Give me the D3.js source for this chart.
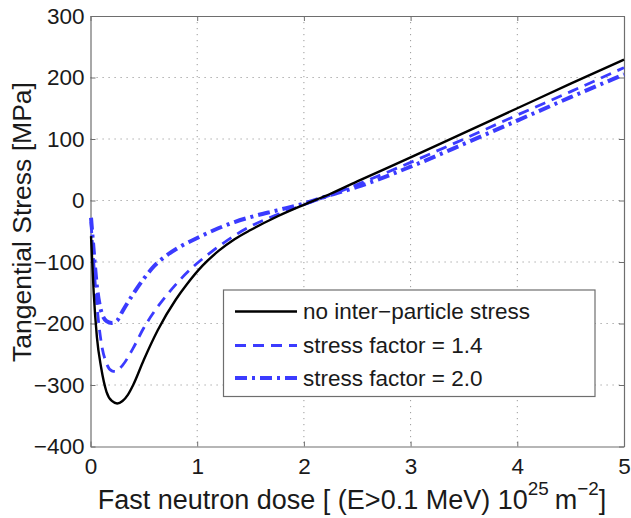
<!DOCTYPE html>
<html><head><meta charset="utf-8">
<script src="https://cdn.jsdelivr.net/npm/d3@7"></script>
<style>
html,body{margin:0;padding:0;background:#fff;}
svg{display:block;font-family:"Liberation Sans",Arial,Helvetica,sans-serif;}
</style></head>
<body>
<svg id="chart" width="631" height="518"></svg>
<script>
// ---- data ----
const xTicks = [0, 1, 2, 3, 4, 5];
const yTicks = [-400, -300, -200, -100, 0, 100, 200, 300];

const doseNoStress = [0.005, 0.03, 0.06, 0.1, 0.15, 0.2, 0.25, 0.3, 0.35, 0.4, 0.5, 0.63, 0.8, 0.9, 1.05, 1.2, 1.35, 1.5, 1.75, 2.0, 2.25, 2.5, 3.0, 3.5, 4.0, 4.5, 5.0];
const stressNoStress = [-58, -150, -222, -272, -311, -326, -330, -326, -316, -300, -259, -211, -161, -137, -106, -82, -63, -48, -26, -7, 11, 31, 70, 110, 150, 190, 229];

const doseF14 = [0.005, 0.03, 0.06, 0.1, 0.15, 0.2, 0.23, 0.3, 0.4, 0.5, 0.6, 0.7, 0.93, 1.16, 1.35, 1.5, 1.75, 2.0, 2.25, 2.5, 3.0, 3.5, 4.0, 4.5, 5.0];
const stressF14 = [-35, -100, -170, -230, -265, -277, -278, -268, -240, -207, -180, -157, -113, -80, -57, -42, -23, -7, 9, 26, 62, 100, 139, 177, 216];

const doseF20 = [0.005, 0.03, 0.06, 0.1, 0.15, 0.2, 0.25, 0.3, 0.4, 0.5, 0.6, 0.7, 0.84, 1.0, 1.16, 1.35, 1.5, 1.75, 2.0, 2.25, 2.5, 3.0, 3.5, 4.0, 4.5, 5.0];
const stressF20 = [-28, -82, -140, -180, -196, -199, -195, -180, -152, -127, -106, -91, -75, -61, -48, -35, -27, -16, -5, 9, 22, 55, 92, 130, 168, 205];

const seriesNames = ["no inter\u2212particle stress", "stress factor = 1.4", "stress factor = 2.0"];

// ---- layout ----
const svg = d3.select("#chart");
const L = 90.5, R = 624, T = 16, B = 446.5;
const x = d3.scaleLinear().domain([0, 5]).range([L, R]);
const y = d3.scaleLinear().domain([-400, 300]).range([B, T]);
const fs = 22.5;
const fsTitle = 27;

// grid
const grid = svg.append("g").attr("stroke", "#9a9a9a").attr("stroke-width", 1).attr("stroke-dasharray", "1.2,4.8");
xTicks.slice(1, -1).forEach(t => grid.append("line").attr("x1", x(t)).attr("x2", x(t)).attr("y1", T).attr("y2", B));
yTicks.slice(1, -1).forEach(t => grid.append("line").attr("x1", L).attr("x2", R).attr("y1", y(t)).attr("y2", y(t)));

// axes
const fmt = d3.format("");
const axB = svg.append("g").attr("transform", `translate(0,${B})`)
  .call(d3.axisBottom(x).tickValues(xTicks).tickSizeInner(-5).tickSizeOuter(0).tickPadding(14).tickFormat(fmt));
const axL = svg.append("g").attr("transform", `translate(${L},0)`)
  .call(d3.axisLeft(y).tickValues(yTicks).tickSizeInner(-5).tickSizeOuter(0).tickPadding(11).tickFormat(fmt));
const axT = svg.append("g").attr("transform", `translate(0,${T})`)
  .call(d3.axisTop(x).tickValues(xTicks).tickSizeInner(-5).tickSizeOuter(0).tickFormat(""));
const axR = svg.append("g").attr("transform", `translate(${R},0)`)
  .call(d3.axisRight(y).tickValues(yTicks).tickSizeInner(-5).tickSizeOuter(0).tickFormat(""));
[axB, axL, axT, axR].forEach(a => {
  a.selectAll(".domain").attr("stroke", "#6e6e6e").attr("stroke-width", 1.2);
  a.selectAll(".tick line").attr("stroke", "#6e6e6e");
  a.selectAll("text").attr("font-size", fs).attr("fill", "#1a1a1a").attr("font-family", "Liberation Sans, Arial, sans-serif");
});
axB.selectAll("text").attr("dy", "0.35em").attr("y", 20);
axL.selectAll("text").attr("x", -6);

// curves
const line = d3.line().x(d => x(d[0])).y(d => y(d[1])).curve(d3.curveMonotoneX);
const blue = "#3b3bff";
const styles = [
  {stroke: "#000", width: 2.4, dash: null},
  {stroke: blue, width: 2.8, dash: "11,7"},
  {stroke: blue, width: 4, dash: "12,5,3,5"}
];
const data = [
  d3.zip(doseNoStress, stressNoStress),
  d3.zip(doseF14, stressF14),
  d3.zip(doseF20, stressF20)
];
const plot = svg.append("g");
[2, 1, 0].forEach(i => {
  plot.append("path").attr("d", line(data[i])).attr("fill", "none")
    .attr("stroke", styles[i].stroke).attr("stroke-width", styles[i].width)
    .attr("stroke-dasharray", styles[i].dash).attr("stroke-linejoin", "round");
});

// legend
const lg = svg.append("g");
lg.append("rect").attr("x", 223.5).attr("y", 290).attr("width", 371.5).attr("height", 106.5)
  .attr("fill", "#fff").attr("stroke", "#6e6e6e").attr("stroke-width", 1.2);
const rowsY = [311.5, 345.5, 378];
seriesNames.forEach((n, i) => {
  lg.append("line").attr("x1", 235).attr("x2", 297).attr("y1", rowsY[i]).attr("y2", rowsY[i])
    .attr("stroke", styles[i].stroke).attr("stroke-width", styles[i].width).attr("stroke-dasharray", styles[i].dash);
  lg.append("text").attr("x", 303).attr("y", rowsY[i]).attr("dy", "0.35em")
    .attr("font-size", fs).attr("fill", "#1a1a1a").text(n);
});

// axis titles
const xt = svg.append("text").attr("x", 352).attr("y", 500).attr("dy", "0.35em")
  .attr("text-anchor", "middle").attr("font-size", fsTitle).attr("fill", "#1a1a1a");
xt.append("tspan").text("Fast neutron dose [ (E>0.1 MeV) 10");
xt.append("tspan").attr("font-size", fsTitle * 0.7).attr("dy", "-0.75em").text("25");
xt.append("tspan").attr("dy", "0.52em").attr("dx", "6").text("m");
xt.append("tspan").attr("font-size", fsTitle * 0.7).attr("dy", "-0.75em").text("\u22122");
xt.append("tspan").attr("dy", "0.52em").text("]");

svg.append("text").attr("transform", `translate(22,222) rotate(-90)`)
  .attr("text-anchor", "middle").attr("dy", "0.35em").attr("font-size", 26.5).attr("fill", "#1a1a1a")
  .text("Tangential Stress [MPa]");
</script>
</body></html>
